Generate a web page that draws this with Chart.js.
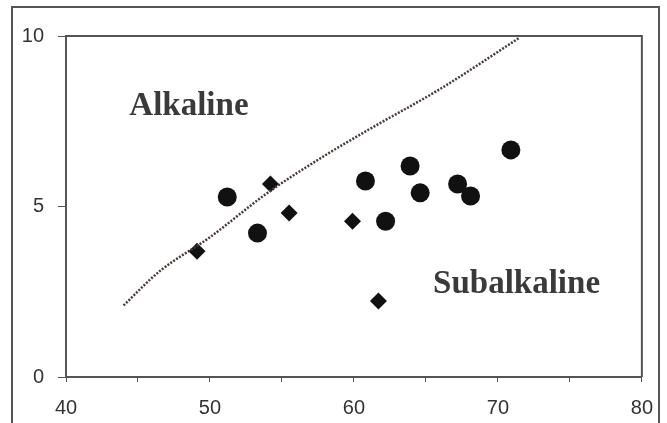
<!DOCTYPE html>
<html>
<head>
<meta charset="utf-8">
<script src="https://cdn.jsdelivr.net/npm/chart.js@4"></script>
<style>
  html, body { margin: 0; padding: 0; background: #fff; }
  #wrap { position: relative; width: 667px; height: 423px; overflow: hidden; }
  #frame { position: absolute; left: 11px; top: 6px; width: 645px; height: 440px; border: 2px solid #555; }
  canvas { position: absolute; left: 0; top: 0; }
</style>
</head>
<body>
<div id="wrap">
  <div id="frame"></div>
  <canvas id="tasChart" width="667" height="423"></canvas>
</div>
<script>
// circles
const circleX = [51.2, 53.3, 60.8, 62.2, 63.9, 64.6, 67.2, 68.1, 70.9];
const circleY = [5.28, 4.22, 5.75, 4.57, 6.19, 5.40, 5.66, 5.31, 6.66];
// diamonds
const diamondX = [49.1, 54.2, 55.5, 59.9, 61.7];
const diamondY = [3.69, 5.66, 4.81, 4.57, 2.23];
// alkaline / subalkaline divide
const boundaryX = [44, 46.5, 50, 54, 58, 61, 66, 71.5];
const boundaryY = [2.1, 3.1, 4.1, 5.4, 6.5, 7.25, 8.45, 9.95];
// axis ticks
const xTicks = [40, 50, 60, 70, 80];
const yTicks = [0, 5, 10];
// field labels
const fieldLabels = [
  { text: 'Alkaline', x: 44.4, y: 7.92 },
  { text: 'Subalkaline', x: 65.5, y: 2.7 }
];

const toPoints = (xs, ys) => xs.map((x, i) => ({ x: x, y: ys[i] }));

const boxAndLabels = {
  id: 'boxAndLabels',
  afterDraw(chart) {
    const c = chart.ctx;
    const a = chart.chartArea;
    c.save();
    c.strokeStyle = '#555';
    c.lineWidth = 2;
    c.beginPath();
    c.moveTo(a.left, a.top);
    c.lineTo(a.right, a.top);
    c.lineTo(a.right, a.bottom);
    c.stroke();
    c.fillStyle = '#3a3a3a';
    c.font = 'bold 33px "Liberation Serif", "Times New Roman", serif';
    c.textAlign = 'left';
    c.textBaseline = 'middle';
    fieldLabels.forEach(l => {
      c.fillText(l.text, chart.scales.x.getPixelForValue(l.x), chart.scales.y.getPixelForValue(l.y));
    });
    c.restore();
  }
};

const ctx = document.getElementById('tasChart').getContext('2d');
const tasChart = new Chart(ctx, {
  type: 'scatter',
  data: {
    datasets: [
      {
        type: 'line',
        label: 'Divide',
        data: toPoints(boundaryX, boundaryY),
        borderColor: '#4a3a35',
        borderWidth: 2.5,
        borderDash: [2, 1.5],
        pointRadius: 0,
        fill: false,
        cubicInterpolationMode: 'monotone'
      },
      {
        label: 'Circles',
        data: toPoints(circleX, circleY),
        pointStyle: 'circle',
        pointRadius: 9.5,
        backgroundColor: '#111',
        borderColor: '#111',
        borderWidth: 0
      },
      {
        label: 'Diamonds',
        data: toPoints(diamondX, diamondY),
        pointStyle: 'rectRot',
        pointRadius: 8.5,
        backgroundColor: '#111',
        borderColor: '#111',
        borderWidth: 0
      }
    ]
  },
  options: {
    responsive: false,
    animation: false,
    layout: { padding: { left: 0, top: 36, right: 25, bottom: 0 } },
    plugins: { legend: { display: false }, tooltip: { enabled: false } },
    scales: {
      x: {
        type: 'linear',
        min: 40,
        max: 80,
        afterFit: s => { s.height = 46; },
        border: { display: true, color: '#555', width: 2 },
        grid: { drawOnChartArea: false, drawTicks: true, tickLength: 5, color: '#555' },
        ticks: {
          stepSize: 5,
          padding: 14,
          color: '#333',
          font: { family: 'Liberation Sans, Arial, sans-serif', size: 20 },
          callback: v => xTicks.includes(v) ? String(v) : ''
        }
      },
      y: {
        type: 'linear',
        min: 0,
        max: 10,
        afterFit: s => { s.width = 66; },
        border: { display: true, color: '#555', width: 2 },
        grid: { drawOnChartArea: false, drawTicks: true, tickLength: 8, color: '#555' },
        ticks: {
          stepSize: 5,
          padding: 14,
          color: '#333',
          font: { family: 'Liberation Sans, Arial, sans-serif', size: 20 },
          callback: v => yTicks.includes(v) ? String(v) : ''
        }
      }
    }
  },
  plugins: [boxAndLabels]
});
</script>
</body>
</html>
